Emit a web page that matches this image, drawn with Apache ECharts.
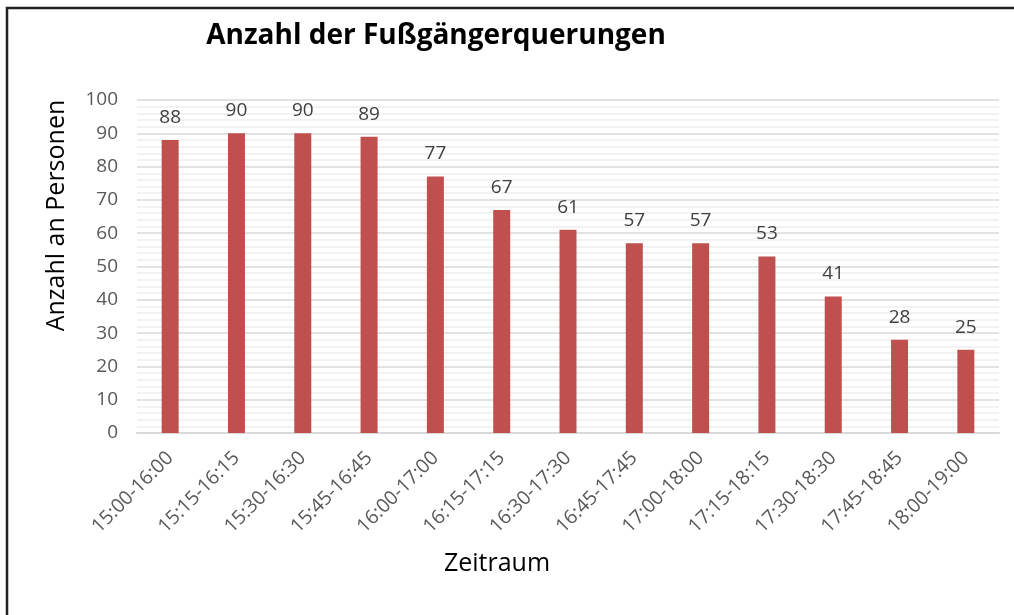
<!DOCTYPE html>
<html>
<head>
<meta charset="utf-8">
<script src="https://cdn.jsdelivr.net/npm/echarts@6/dist/echarts.min.js"></script>
<style>
  html, body { margin: 0; padding: 0; background: #fff; }
  #chart { width: 1014px; height: 615px; }
</style>
</head>
<body>
<div id="chart"></div>
<script>
const categories = [
  '15:00-16:00', '15:15-16:15', '15:30-16:30', '15:45-16:45', '16:00-17:00',
  '16:15-17:15', '16:30-17:30', '16:45-17:45', '17:00-18:00', '17:15-18:15',
  '17:30-18:30', '17:45-18:45', '18:00-19:00'
];
const personen = [88, 90, 90, 89, 77, 67, 61, 57, 57, 53, 41, 28, 25];

const font = "'Open Sans', 'Noto Sans', sans-serif";

const chart = echarts.init(document.getElementById('chart'));
chart.setOption({
  animation: false,
  textStyle: { fontFamily: font },
  title: {
    text: 'Anzahl der Fußgängerquerungen',
    left: 431,
    top: 17,
    textAlign: 'center',
    textStyle: { fontFamily: font, fontSize: 28, fontWeight: 'bold', color: '#000' }
  },
  graphic: [
    {
      type: 'rect',
      shape: { x: 7, y: 8, width: 1030, height: 640 },
      style: { fill: 'none', stroke: '#222', lineWidth: 2.5 }
    }
  ],
  grid: { left: 137, right: 15, top: 100, bottom: 182 },
  xAxis: {
    type: 'category',
    data: categories,
    name: 'Zeitraum',
    nameLocation: 'middle',
    nameGap: 118,
    nameTextStyle: { fontSize: 25, color: '#000', padding: [0, 142, 0, 0] },
    axisLine: { lineStyle: { color: '#d9d9d9', width: 2 } },
    axisTick: { show: false },
    axisLabel: { rotate: 45, margin: 22, fontSize: 19.5, color: '#595959' }
  },
  yAxis: {
    type: 'value',
    min: 0,
    max: 100,
    interval: 10,
    name: 'Anzahl an Personen',
    nameLocation: 'middle',
    nameGap: 68,
    nameTextStyle: { fontSize: 25, color: '#000', padding: [0, 0, 0, 102] },
    axisLine: { show: false },
    axisTick: { show: false },
    axisLabel: { fontSize: 19, color: '#595959', margin: 19 },
    splitLine: { lineStyle: { color: '#d9d9d9', width: 1.5 } },
    minorTick: { show: false, splitNumber: 5 },
    minorSplitLine: { show: true, lineStyle: { color: '#eeeeee', width: 1.5 } }
  },
  series: [
    {
      type: 'bar',
      data: personen,
      barWidth: 17,
      itemStyle: { color: '#c0504d' },
      label: {
        show: true,
        position: 'top',
        distance: 13,
        fontSize: 19,
        color: '#404040'
      }
    }
  ]
});
</script>
</body>
</html>
